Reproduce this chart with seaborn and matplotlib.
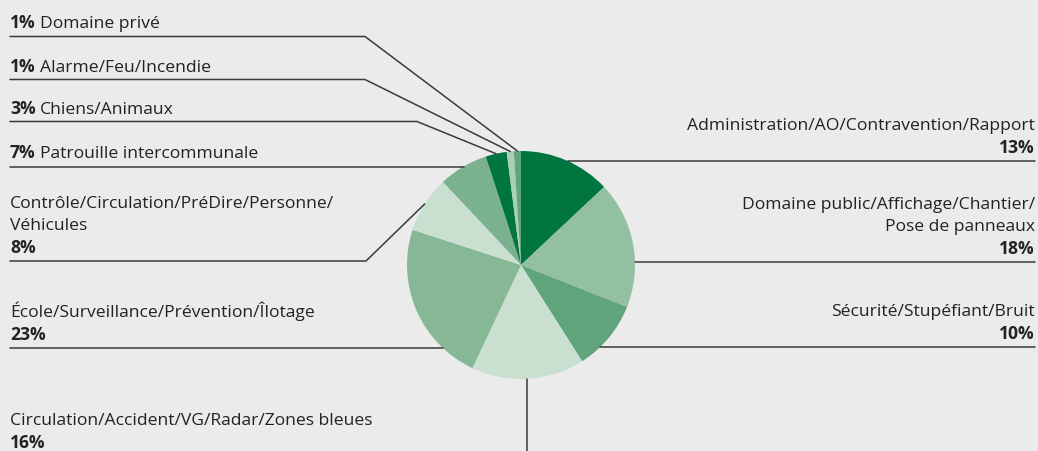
import numpy as np
import matplotlib.pyplot as plt
import seaborn as sns

# Données (sens horaire à partir du haut)
categories = [
    "Administration/AO/Contravention/Rapport",
    "Domaine public/Affichage/Chantier/\nPose de panneaux",
    "Sécurité/Stupéfiant/Bruit",
    "Circulation/Accident/VG/Radar/Zones bleues",
    "École/Surveillance/Prévention/Îlotage",
    "Contrôle/Circulation/PréDire/Personne/\nVéhicules",
    "Patrouille intercommunale",
    "Chiens/Animaux",
    "Alarme/Feu/Incendie",
    "Domaine privé",
]
values = [13, 18, 10, 16, 23, 8, 7, 3, 1, 1]
colors = ["#00753f", "#93c0a0", "#60a47b", "#c9e0d0", "#86b896",
          "#c9e0d0", "#7ab18e", "#00753f", "#a9cfb5", "#60a47b"]

# Mise en page des étiquettes (pixels depuis le haut)
# side, y de la ligne, x du coude (None = horizontal jusqu'au bord), style
layout = [
    ("R", 162, None, "stack"),
    ("R", 263, None, "stack"),
    ("R", 348, None, "stack"),
    ("L", 457, "vertical", "stack"),
    ("L", 349, None, "stack"),
    ("L", 262, 366, "stack"),
    ("L", 167.5, None, "inline"),
    ("L", 122.5, 417, "inline"),
    ("L", 80.5, 365, "inline"),
    ("L", 37.5, 365, "inline"),
]

W, H = 1038, 452
CX, CY, R = 521, 266, 114
BG = "#ebebeb"
LINE = "#3a3a3a"
TXT = "#222222"


def Y(py):
    return H - py


def main():
    sns.set_theme(style="white")
    plt.rcParams['font.family'] = ['Open Sans', 'DejaVu Sans']

    fig = plt.figure(figsize=(W / 100, H / 100), dpi=100, facecolor=BG)
    ax = fig.add_axes([0, 0, 1, 1])
    ax.set_facecolor(BG)

    ax.pie(values, colors=colors, startangle=90, counterclock=False,
           center=(CX, Y(CY)), radius=R, wedgeprops=dict(linewidth=0),
           frame=True)
    ax.set_xlim(0, W)
    ax.set_ylim(0, H)
    ax.set_aspect('auto')
    ax.axis('off')

    renderer = fig.canvas.get_renderer()
    fs = 12.6
    step = 22.7
    cum = 0
    for name, val, (side, ly, knee, style) in zip(categories, values, layout):
        mid = np.deg2rad(90 - 360 * (cum + val / 2) / 100)
        cum += val
        pct = f"{val}%"
        x0 = 10 if side == "L" else W - 3
        ha = "left" if side == "L" else "right"

        # ligne de rappel
        if knee == "vertical":
            vx = CX + 6
            vy = CY + np.sqrt(R ** 2 - 6 ** 2)
            ax.plot([vx, vx], [Y(vy), 0], color=LINE, lw=1.1)
        elif knee is None:
            dy = ly - CY
            dx = np.sqrt(R ** 2 - dy ** 2)
            xe = CX - dx if side == "L" else CX + dx
            ax.plot([x0, xe], [Y(ly), Y(ly)], color=LINE, lw=1.1)
        else:
            px = CX + R * np.cos(mid)
            py = CY - R * np.sin(mid)
            ax.plot([x0, knee, px], [Y(ly), Y(ly), Y(py)], color=LINE, lw=1.1)

        # texte
        base = ly - 9
        if style == "inline":
            t = ax.text(x0, Y(base), pct, fontsize=fs, fontweight="bold",
                        color=TXT, ha="left", va="baseline")
            w = t.get_window_extent(renderer).width
            ax.text(x0 + w + 4.5, Y(base), name, fontsize=fs, color=TXT,
                    ha="left", va="baseline")
        else:
            ax.text(x0, Y(base), pct, fontsize=fs, fontweight="bold",
                    color=TXT, ha=ha, va="baseline")
            lines = name.split("\n")
            for i, ln in enumerate(reversed(lines)):
                ax.text(x0, Y(base - step * (i + 1)), ln, fontsize=fs,
                        color=TXT, ha=ha, va="baseline")

    fig.savefig("out.png", dpi=100, facecolor=BG)


if __name__ == "__main__":
    main()
